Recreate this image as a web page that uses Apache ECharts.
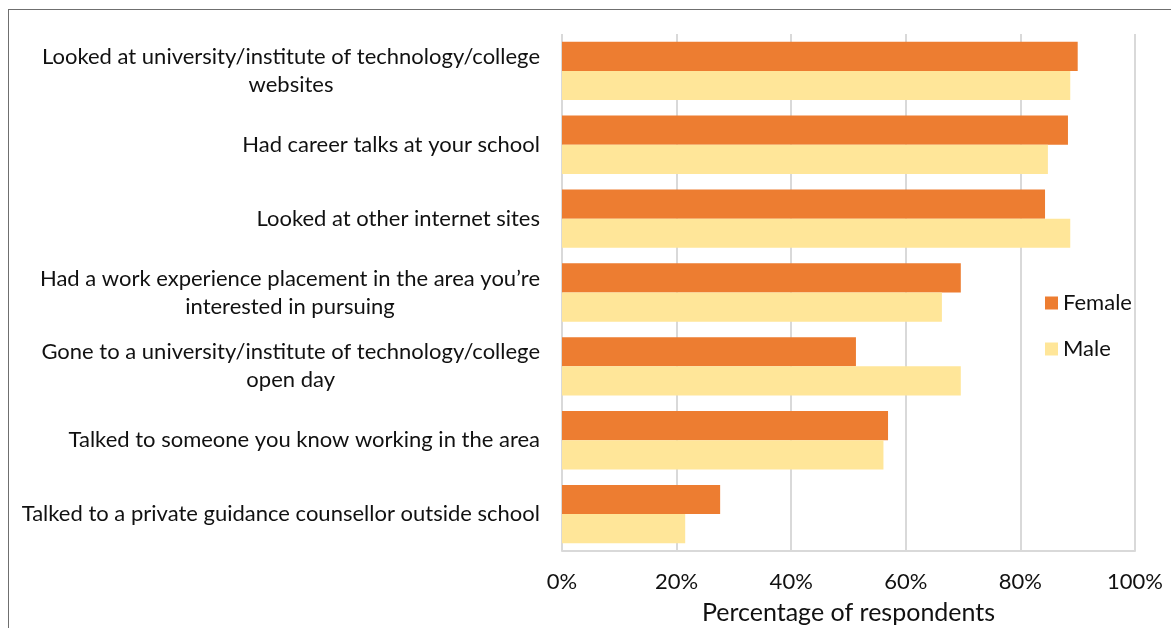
<!DOCTYPE html>
<html>
<head>
<meta charset="utf-8">
<script src="https://cdn.jsdelivr.net/npm/echarts@6/dist/echarts.min.js"></script>
<style>
  html, body { margin: 0; padding: 0; background: #fff; }
  #frame { position: absolute; left: 8px; top: 9px; width: 1200px; height: 660px; border: 1px solid #6f6f6f; box-sizing: border-box; }
  #chart { position: absolute; left: 0; top: 0; width: 1171px; height: 628px; }
</style>
</head>
<body>
<div id="frame"></div>
<div id="chart"></div>
<script>
// Activities students did when choosing a course, by gender (% of respondents)
const categories = [
  'Looked at university/institute of technology/college\nwebsites',
  'Had career talks at your school',
  'Looked at other internet sites',
  'Had a work experience placement in the area you\u2019re\ninterested in pursuing',
  'Gone to a university/institute of technology/college\nopen day',
  'Talked to someone you know working in the area',
  'Talked to a private guidance counsellor outside school'
];
const female = [90, 88.3, 84.3, 69.6, 51.3, 56.9, 27.6];
const male = [88.7, 84.8, 88.7, 66.3, 69.6, 56.1, 21.5];
const xTicks = [0, 20, 40, 60, 80, 100];

const FONT = 'Lato, "Open Sans", sans-serif';
const chart = echarts.init(document.getElementById('chart'));
chart.setOption({
  animation: false,
  textStyle: { fontFamily: FONT },
  grid: { left: 562, right: 36, top: 34, bottom: 77, containLabel: false, outerBoundsMode: 'none' },
  legend: {
    orient: 'vertical',
    left: 1040,
    top: 287,
    itemWidth: 13,
    itemHeight: 13,
    itemGap: 24,
    icon: 'rect',
    textStyle: { fontSize: 22, color: '#111', fontFamily: FONT },
    data: ['Female', 'Male']
  },
  xAxis: {
    type: 'value',
    min: xTicks[0],
    max: xTicks[xTicks.length - 1],
    interval: 20,
    name: 'Percentage of respondents',
    nameLocation: 'middle',
    nameGap: 49,
    nameTextStyle: { fontSize: 25, color: '#111', fontFamily: FONT },
    axisLine: { show: true, lineStyle: { color: '#d9d9d9', width: 2 } },
    axisTick: { show: false },
    axisLabel: { fontSize: 22, color: '#111', margin: 20, formatter: v => v + '%' },
    splitLine: { show: true, lineStyle: { color: '#d9d9d9', width: 2 } }
  },
  yAxis: {
    type: 'category',
    inverse: true,
    data: categories,
    axisLine: { show: false },
    axisTick: { show: false },
    axisLabel: {
      margin: 22,
      align: 'right',
      // multi-line labels: each line centred inside the right-aligned block
      formatter: v => v.split('\n').map(s => '{c|' + s + '}').join('\n'),
      rich: { c: { align: 'center', fontSize: 22, lineHeight: 28, color: '#111', fontFamily: FONT } }
    }
  },
  series: [
    {
      name: 'Female', type: 'bar', data: female,
      itemStyle: { color: '#ED7D31' },
      barGap: '0%', barCategoryGap: '21%'
    },
    {
      name: 'Male', type: 'bar', data: male,
      itemStyle: { color: '#FFE699' },
      barGap: '0%', barCategoryGap: '21%'
    }
  ]
});
</script>
</body>
</html>
